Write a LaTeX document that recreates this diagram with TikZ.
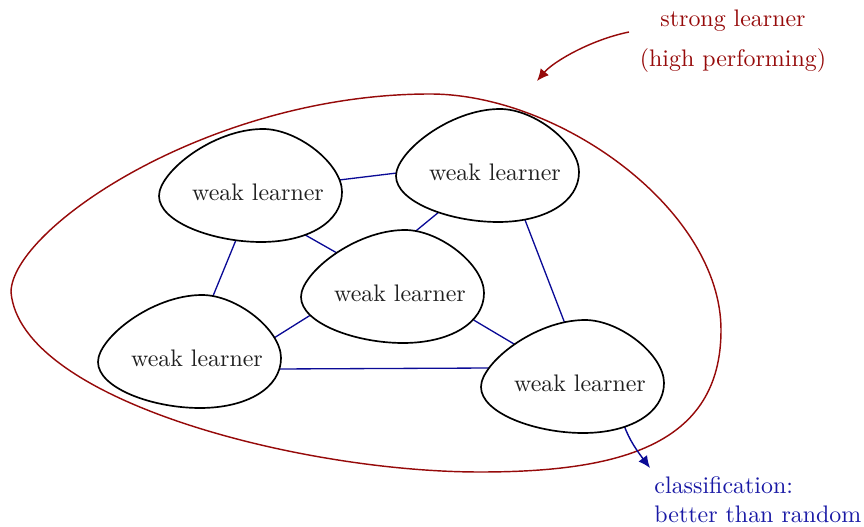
\documentclass[tikz,border=0pt]{standalone}
\usetikzlibrary{calc,backgrounds,arrows.meta}
\definecolor{strongred}{RGB}{150,10,10}
\definecolor{linkblue}{RGB}{10,10,150}
\definecolor{clsblue}{RGB}{25,25,165}
\begin{document}
\begin{tikzpicture}[x=0.418pt,y=-0.418pt,
  learner/.style={text=black!88, inner sep=0pt},
  blob/.style={draw=black, line width=0.7pt, fill=white},
  link/.style={draw=linkblue, line width=0.55pt},
  ensemble/.style={draw=strongred, line width=0.6pt},
  strongtext/.style={text=strongred, inner sep=0pt, align=center},
  clstext/.style={text=clsblue, inner sep=0pt, align=left},
  redarrow/.style={draw=strongred, line width=0.6pt, -{Latex[length=5pt,width=4.5pt]}},
  bluearrow/.style={draw=linkblue, line width=0.6pt, -{Latex[length=5pt,width=4.5pt]}}]
\useasboundingbox (0,0) rectangle (864,527);

% egg-shaped outline around a learner, relative to its centre
\def\blobpath{(-99,4) .. controls (-99,-20) and (-45,-63) .. (5,-63)
  .. controls (40,-63) and (84,-28) .. (84,0)
  .. controls (84,30) and (50,50) .. (3,50)
  .. controls (-45,50) and (-99,30) .. cycle}

% weak learners
\node[learner] (w1) at (258,192) {weak learner};
\node[learner] (w2) at (495,172) {weak learner};
\node[learner] (w3) at (400,293) {weak learner};
\node[learner] (w4) at (197,358) {weak learner};
\node[learner] (w5) at (580,383) {weak learner};

% labels
\node[strongtext, anchor=north] (sl) at (733,9.5) {strong learner\\[4.5pt](high performing)};
\node[clstext, anchor=north west] (cls) at (654,476.5) {classification:\\better than random};

\coordinate (slfrom) at (629,32);
\coordinate (slto) at (537,81);
\coordinate (clsto) at (650,468);

\begin{pgfonlayer}{background}
  % the ensemble boundary
  \draw[ensemble] (11,292) .. controls (12,228) and (210,94) .. (430,94)
    .. controls (560,94) and (721,210) .. (721,330)
    .. controls (721,445) and (620,472) .. (480,472)
    .. controls (300,472) and (20,400) .. cycle;

  % links between learners
  \draw[link] ($(w1)+(77,-11.5)$) -- ($(w2)+(-94,0.5)$);
  \draw[link] ($(w1)+(-20.5,44.3)$) -- ($(w4)+(14.5,-58.3)$);
  \draw[link] ($(w1)+(45.5,42)$) -- ($(w3)+(-59.5,-38)$);
  \draw[link] ($(w2)+(-53,37.5)$) -- ($(w3)+(14,-60.5)$);
  \draw[link] ($(w2)+(28.6,44.3)$) -- ($(w5)+(-14.6,-58.3)$);
  \draw[link] ($(w3)+(-87.6,20.9)$) -- ($(w4)+(73.6,-17.9)$);
  \draw[link] ($(w3)+(73.6,27)$) -- ($(w5)+(-62.6,-37)$);
  \draw[link] ($(w4)+(80,11)$) -- ($(w5)+(-89,-15)$);

  % output of the ensemble
  \draw[bluearrow] ($(w5)+(44,42)$) .. controls ($(w5)+(49,57)$) and ($(clsto)+(-12,-16)$) .. (clsto);

  % outlines on top of the links
  \foreach \w in {w1,w2,w3,w4,w5}
    \draw[blob, shift={(\w.center)}] \blobpath;
\end{pgfonlayer}

% pointer to the ensemble
\draw[redarrow] (slfrom) .. controls (590,40) and (553,62) .. (slto);
\end{tikzpicture}
\end{document}
